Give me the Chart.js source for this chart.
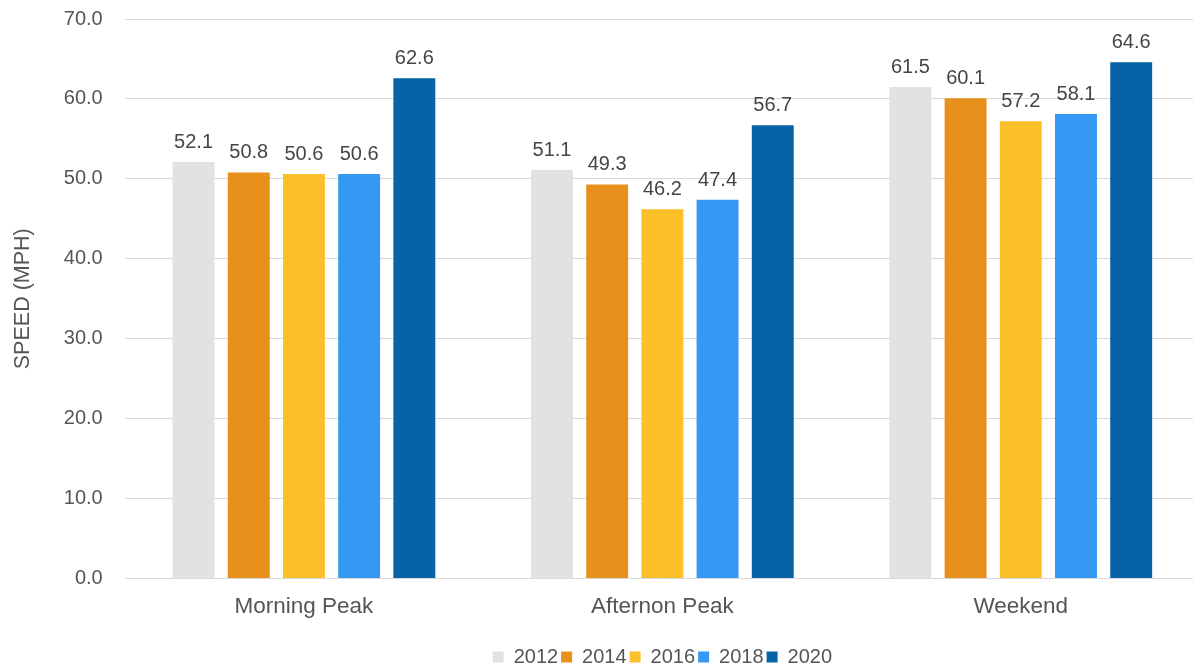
<!DOCTYPE html>
<html>
<head>
<meta charset="utf-8">
<script src="https://cdn.jsdelivr.net/npm/chart.js@4/dist/chart.umd.min.js"></script>
<style>
  html, body { margin: 0; padding: 0; background: #ffffff; overflow: hidden; width: 1193px; height: 666px; }
  #wrap { position: absolute; left: 0; top: 0; width: 1200px; height: 677px; }
</style>
</head>
<body>
<div id="wrap"><canvas id="c" width="1200" height="677"></canvas></div>
<script>
const categories = ["Morning Peak", "Afternon Peak", "Weekend"];
const seriesNames = ["2012", "2014", "2016", "2018", "2020"];
const v2012 = [52.1, 51.1, 61.5];
const v2014 = [50.8, 49.3, 60.1];
const v2016 = [50.6, 46.2, 57.2];
const v2018 = [50.6, 47.4, 58.1];
const v2020 = [62.6, 56.7, 64.6];
const yTicks = [0, 10, 20, 30, 40, 50, 60, 70];
const yTitle = "SPEED (MPH)";

const seriesValues = [v2012, v2014, v2016, v2018, v2020];
const colors = ["#e2e2e2", "#e8901c", "#fbc02a", "#3598f2", "#0663a6"];
const FONT = "'Liberation Sans', Arial, sans-serif";

const valueLabels = {
  id: 'valueLabels',
  afterDatasetsDraw(chart) {
    const ctx = chart.ctx;
    ctx.save();
    ctx.font = "20px " + FONT;
    ctx.fillStyle = "#454545";
    ctx.textAlign = "center";
    ctx.textBaseline = "alphabetic";
    chart.data.datasets.forEach((ds, i) => {
      const meta = chart.getDatasetMeta(i);
      meta.data.forEach((bar, j) => {
        ctx.fillText(ds.data[j].toFixed(1), bar.x, bar.y - 14);
      });
    });
    ctx.restore();
  }
};

new Chart(document.getElementById('c'), {
  type: 'bar',
  data: {
    labels: categories,
    datasets: seriesNames.map((n, i) => ({
      label: n,
      data: seriesValues[i],
      backgroundColor: colors[i],
      borderWidth: 0,
      categoryPercentage: 0.77,
      barPercentage: 0.76
    }))
  },
  options: {
    responsive: false,
    devicePixelRatio: 1,
    animation: false,
    layout: { padding: { left: 10, top: 4, right: 0, bottom: 0 } },
    plugins: {
      tooltip: { enabled: false },
      legend: {
        position: 'bottom',
        fullSize: false,
        title: { display: true, text: '', font: { size: 5, family: FONT, lineHeight: 1.2 }, padding: 1.5 },
        labels: {
          boxWidth: 11,
          boxHeight: 11,
          padding: 3,
          color: '#555555',
          font: { size: 20, family: FONT }
        }
      }
    },
    scales: {
      x: {
        grid: { display: false, drawTicks: false },
        border: { display: false },
        ticks: { color: '#555555', font: { size: 22.5, family: FONT, lineHeight: 1.0 }, padding: 17 }
      },
      y: {
        min: 0,
        max: 70,
        afterBuildTicks(scale) { scale.ticks = yTicks.map(v => ({ value: v })); },
        grid: { color: '#d9d9d9', lineWidth: 1, drawTicks: true, tickLength: 15, tickColor: 'rgba(0,0,0,0)' },
        border: { display: false },
        ticks: {
          color: '#555555',
          font: { size: 20, family: FONT },
          padding: 7,
          callback: (v) => Number(v).toFixed(1)
        },
        title: {
          display: true,
          text: yTitle,
          color: '#555555',
          font: { size: 21.5, family: FONT },
          padding: { top: 0, bottom: 21 }
        }
      }
    }
  },
  plugins: [valueLabels]
});
</script>
</body>
</html>
